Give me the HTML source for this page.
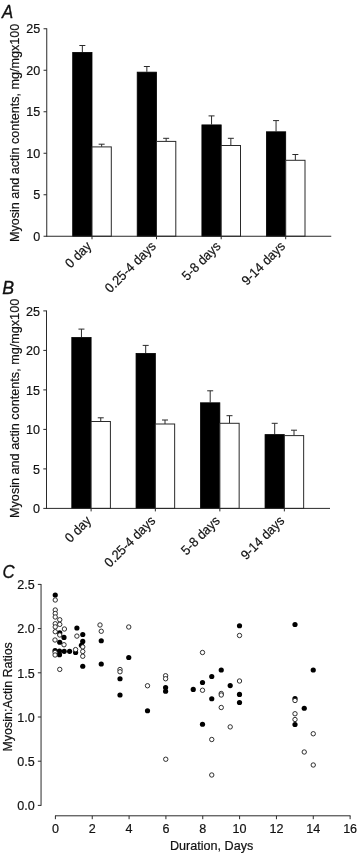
<!DOCTYPE html>
<html><head><meta charset="utf-8"><title>Figure</title>
<style>html,body{margin:0;padding:0;background:#fff}svg{display:block}text{font-family:"Liberation Sans",sans-serif;fill:#111;stroke:#111;stroke-width:0.2px}</style></head><body>
<svg width="360" height="853" viewBox="0 0 360 853">
<rect width="360" height="853" fill="#fff"/>
<text transform="translate(2,18.4) scale(0.93,1)" font-size="18" font-style="italic" style="stroke-width:0.35px">A</text>
<text transform="translate(18.7,242) rotate(-90)" font-size="13" textLength="218.2" lengthAdjust="spacingAndGlyphs">Myosin and actin contents, mg/mgx100</text>
<line x1="43.55" y1="236.25" x2="46.75" y2="236.25" stroke="#2a2a2a" stroke-width="1"/>
<text transform="translate(40.25,240.95) scale(0.938,1)" font-size="13.4" text-anchor="end">0</text>
<line x1="43.55" y1="194.75" x2="46.75" y2="194.75" stroke="#2a2a2a" stroke-width="1"/>
<text transform="translate(40.25,199.45) scale(0.938,1)" font-size="13.4" text-anchor="end">5</text>
<line x1="43.55" y1="153.25" x2="46.75" y2="153.25" stroke="#2a2a2a" stroke-width="1"/>
<text transform="translate(40.25,157.95) scale(0.938,1)" font-size="13.4" text-anchor="end">10</text>
<line x1="43.55" y1="111.75" x2="46.75" y2="111.75" stroke="#2a2a2a" stroke-width="1"/>
<text transform="translate(40.25,116.45) scale(0.938,1)" font-size="13.4" text-anchor="end">15</text>
<line x1="43.55" y1="70.25" x2="46.75" y2="70.25" stroke="#2a2a2a" stroke-width="1"/>
<text transform="translate(40.25,74.95) scale(0.938,1)" font-size="13.4" text-anchor="end">20</text>
<line x1="43.55" y1="28.75" x2="46.75" y2="28.75" stroke="#2a2a2a" stroke-width="1"/>
<text transform="translate(40.25,33.45) scale(0.938,1)" font-size="13.4" text-anchor="end">25</text>
<line x1="46.75" y1="28.35" x2="46.75" y2="236.65" stroke="#2a2a2a" stroke-width="1"/>
<line x1="82.35" y1="45.50" x2="82.35" y2="52.00" stroke="#2a2a2a" stroke-width="1"/>
<line x1="79.35" y1="45.50" x2="85.35" y2="45.50" stroke="#2a2a2a" stroke-width="1"/>
<rect x="72.70" y="52.40" width="19.30" height="183.85" fill="#000" stroke="#000" stroke-width="0.8"/>
<line x1="101.65" y1="144.20" x2="101.65" y2="146.90" stroke="#2a2a2a" stroke-width="1"/>
<line x1="98.65" y1="144.20" x2="104.65" y2="144.20" stroke="#2a2a2a" stroke-width="1"/>
<rect x="92.00" y="146.90" width="19.30" height="89.35" fill="#fff" stroke="#2a2a2a" stroke-width="1"/>
<line x1="92.00" y1="236.25" x2="92.00" y2="239.25" stroke="#2a2a2a" stroke-width="1"/>
<text transform="translate(92.20,247.05) rotate(-45) scale(0.938,1)" font-size="13.4" text-anchor="end">0 day</text>
<line x1="146.85" y1="66.50" x2="146.85" y2="71.75" stroke="#2a2a2a" stroke-width="1"/>
<line x1="143.85" y1="66.50" x2="149.85" y2="66.50" stroke="#2a2a2a" stroke-width="1"/>
<rect x="137.20" y="72.15" width="19.30" height="164.10" fill="#000" stroke="#000" stroke-width="0.8"/>
<line x1="166.15" y1="138.30" x2="166.15" y2="141.40" stroke="#2a2a2a" stroke-width="1"/>
<line x1="163.15" y1="138.30" x2="169.15" y2="138.30" stroke="#2a2a2a" stroke-width="1"/>
<rect x="156.50" y="141.40" width="19.30" height="94.85" fill="#fff" stroke="#2a2a2a" stroke-width="1"/>
<line x1="156.50" y1="236.25" x2="156.50" y2="239.25" stroke="#2a2a2a" stroke-width="1"/>
<text transform="translate(156.70,247.05) rotate(-45) scale(0.938,1)" font-size="13.4" text-anchor="end">0.25-4 days</text>
<line x1="211.55" y1="115.90" x2="211.55" y2="124.50" stroke="#2a2a2a" stroke-width="1"/>
<line x1="208.55" y1="115.90" x2="214.55" y2="115.90" stroke="#2a2a2a" stroke-width="1"/>
<rect x="201.90" y="124.90" width="19.30" height="111.35" fill="#000" stroke="#000" stroke-width="0.8"/>
<line x1="230.85" y1="138.30" x2="230.85" y2="145.50" stroke="#2a2a2a" stroke-width="1"/>
<line x1="227.85" y1="138.30" x2="233.85" y2="138.30" stroke="#2a2a2a" stroke-width="1"/>
<rect x="221.20" y="145.50" width="19.30" height="90.75" fill="#fff" stroke="#2a2a2a" stroke-width="1"/>
<line x1="221.20" y1="236.25" x2="221.20" y2="239.25" stroke="#2a2a2a" stroke-width="1"/>
<text transform="translate(221.40,247.05) rotate(-45) scale(0.938,1)" font-size="13.4" text-anchor="end">5-8 days</text>
<line x1="276.05" y1="120.60" x2="276.05" y2="131.40" stroke="#2a2a2a" stroke-width="1"/>
<line x1="273.05" y1="120.60" x2="279.05" y2="120.60" stroke="#2a2a2a" stroke-width="1"/>
<rect x="266.40" y="131.80" width="19.30" height="104.45" fill="#000" stroke="#000" stroke-width="0.8"/>
<line x1="295.35" y1="154.50" x2="295.35" y2="160.30" stroke="#2a2a2a" stroke-width="1"/>
<line x1="292.35" y1="154.50" x2="298.35" y2="154.50" stroke="#2a2a2a" stroke-width="1"/>
<rect x="285.70" y="160.30" width="19.30" height="75.95" fill="#fff" stroke="#2a2a2a" stroke-width="1"/>
<line x1="285.70" y1="236.25" x2="285.70" y2="239.25" stroke="#2a2a2a" stroke-width="1"/>
<text transform="translate(285.90,247.05) rotate(-45) scale(0.938,1)" font-size="13.4" text-anchor="end">9-14 days</text>
<line x1="46.35" y1="236.25" x2="331.25" y2="236.25" stroke="#2a2a2a" stroke-width="1"/>
<text transform="translate(2.2,294.1) scale(0.96,1)" font-size="18.5" font-style="italic" style="stroke-width:0.35px">B</text>
<text transform="translate(18.6,518) rotate(-90)" font-size="13" textLength="219.2" lengthAdjust="spacingAndGlyphs">Myosin and actin contents, mg/mgx100</text>
<line x1="43.3" y1="508.40" x2="46.5" y2="508.40" stroke="#2a2a2a" stroke-width="1"/>
<text transform="translate(40.0,513.10) scale(0.938,1)" font-size="13.4" text-anchor="end">0</text>
<line x1="43.3" y1="468.90" x2="46.5" y2="468.90" stroke="#2a2a2a" stroke-width="1"/>
<text transform="translate(40.0,473.60) scale(0.938,1)" font-size="13.4" text-anchor="end">5</text>
<line x1="43.3" y1="429.40" x2="46.5" y2="429.40" stroke="#2a2a2a" stroke-width="1"/>
<text transform="translate(40.0,434.10) scale(0.938,1)" font-size="13.4" text-anchor="end">10</text>
<line x1="43.3" y1="389.90" x2="46.5" y2="389.90" stroke="#2a2a2a" stroke-width="1"/>
<text transform="translate(40.0,394.60) scale(0.938,1)" font-size="13.4" text-anchor="end">15</text>
<line x1="43.3" y1="350.40" x2="46.5" y2="350.40" stroke="#2a2a2a" stroke-width="1"/>
<text transform="translate(40.0,355.10) scale(0.938,1)" font-size="13.4" text-anchor="end">20</text>
<line x1="43.3" y1="310.90" x2="46.5" y2="310.90" stroke="#2a2a2a" stroke-width="1"/>
<text transform="translate(40.0,315.60) scale(0.938,1)" font-size="13.4" text-anchor="end">25</text>
<line x1="46.5" y1="310.50" x2="46.5" y2="508.80" stroke="#2a2a2a" stroke-width="1"/>
<line x1="81.45" y1="329.10" x2="81.45" y2="337.10" stroke="#2a2a2a" stroke-width="1"/>
<line x1="78.45" y1="329.10" x2="84.45" y2="329.10" stroke="#2a2a2a" stroke-width="1"/>
<rect x="71.80" y="337.50" width="19.30" height="170.90" fill="#000" stroke="#000" stroke-width="0.8"/>
<line x1="100.75" y1="417.80" x2="100.75" y2="421.50" stroke="#2a2a2a" stroke-width="1"/>
<line x1="97.75" y1="417.80" x2="103.75" y2="417.80" stroke="#2a2a2a" stroke-width="1"/>
<rect x="91.10" y="421.50" width="19.30" height="86.90" fill="#fff" stroke="#2a2a2a" stroke-width="1"/>
<line x1="91.10" y1="508.40" x2="91.10" y2="511.40" stroke="#2a2a2a" stroke-width="1"/>
<text transform="translate(91.95,521.60) rotate(-45) scale(0.938,1)" font-size="13.4" text-anchor="end">0 day</text>
<line x1="145.70" y1="345.40" x2="145.70" y2="353.00" stroke="#2a2a2a" stroke-width="1"/>
<line x1="142.70" y1="345.40" x2="148.70" y2="345.40" stroke="#2a2a2a" stroke-width="1"/>
<rect x="136.05" y="353.40" width="19.30" height="155.00" fill="#000" stroke="#000" stroke-width="0.8"/>
<line x1="165.00" y1="420.00" x2="165.00" y2="424.00" stroke="#2a2a2a" stroke-width="1"/>
<line x1="162.00" y1="420.00" x2="168.00" y2="420.00" stroke="#2a2a2a" stroke-width="1"/>
<rect x="155.35" y="424.00" width="19.30" height="84.40" fill="#fff" stroke="#2a2a2a" stroke-width="1"/>
<line x1="155.35" y1="508.40" x2="155.35" y2="511.40" stroke="#2a2a2a" stroke-width="1"/>
<text transform="translate(156.20,521.60) rotate(-45) scale(0.938,1)" font-size="13.4" text-anchor="end">0.25-4 days</text>
<line x1="210.20" y1="390.80" x2="210.20" y2="402.40" stroke="#2a2a2a" stroke-width="1"/>
<line x1="207.20" y1="390.80" x2="213.20" y2="390.80" stroke="#2a2a2a" stroke-width="1"/>
<rect x="200.55" y="402.80" width="19.30" height="105.60" fill="#000" stroke="#000" stroke-width="0.8"/>
<line x1="229.50" y1="415.70" x2="229.50" y2="423.30" stroke="#2a2a2a" stroke-width="1"/>
<line x1="226.50" y1="415.70" x2="232.50" y2="415.70" stroke="#2a2a2a" stroke-width="1"/>
<rect x="219.85" y="423.30" width="19.30" height="85.10" fill="#fff" stroke="#2a2a2a" stroke-width="1"/>
<line x1="219.85" y1="508.40" x2="219.85" y2="511.40" stroke="#2a2a2a" stroke-width="1"/>
<text transform="translate(220.70,521.60) rotate(-45) scale(0.938,1)" font-size="13.4" text-anchor="end">5-8 days</text>
<line x1="274.70" y1="423.30" x2="274.70" y2="434.20" stroke="#2a2a2a" stroke-width="1"/>
<line x1="271.70" y1="423.30" x2="277.70" y2="423.30" stroke="#2a2a2a" stroke-width="1"/>
<rect x="265.05" y="434.60" width="19.30" height="73.80" fill="#000" stroke="#000" stroke-width="0.8"/>
<line x1="294.00" y1="430.20" x2="294.00" y2="435.60" stroke="#2a2a2a" stroke-width="1"/>
<line x1="291.00" y1="430.20" x2="297.00" y2="430.20" stroke="#2a2a2a" stroke-width="1"/>
<rect x="284.35" y="435.60" width="19.30" height="72.80" fill="#fff" stroke="#2a2a2a" stroke-width="1"/>
<line x1="284.35" y1="508.40" x2="284.35" y2="511.40" stroke="#2a2a2a" stroke-width="1"/>
<text transform="translate(285.20,521.60) rotate(-45) scale(0.938,1)" font-size="13.4" text-anchor="end">9-14 days</text>
<line x1="46.1" y1="508.40" x2="330" y2="508.40" stroke="#2a2a2a" stroke-width="1"/>
<text transform="translate(2.4,577.5) scale(0.89,1)" font-size="18.8" font-style="italic" style="stroke-width:0.35px">C</text>
<text transform="translate(11.7,751.5) rotate(-90)" font-size="13" textLength="109.3" lengthAdjust="spacingAndGlyphs">Myosin:Actin Ratios</text>
<line x1="37.849999999999994" y1="805.40" x2="41.05" y2="805.40" stroke="#2a2a2a" stroke-width="1"/>
<text transform="translate(34.75,810.10) scale(0.938,1)" font-size="13.4" text-anchor="end">0.0</text>
<line x1="37.849999999999994" y1="761.20" x2="41.05" y2="761.20" stroke="#2a2a2a" stroke-width="1"/>
<text transform="translate(34.75,765.90) scale(0.938,1)" font-size="13.4" text-anchor="end">0.5</text>
<line x1="37.849999999999994" y1="717.00" x2="41.05" y2="717.00" stroke="#2a2a2a" stroke-width="1"/>
<text transform="translate(34.75,721.70) scale(0.938,1)" font-size="13.4" text-anchor="end">1.0</text>
<line x1="37.849999999999994" y1="672.80" x2="41.05" y2="672.80" stroke="#2a2a2a" stroke-width="1"/>
<text transform="translate(34.75,677.50) scale(0.938,1)" font-size="13.4" text-anchor="end">1.5</text>
<line x1="37.849999999999994" y1="628.60" x2="41.05" y2="628.60" stroke="#2a2a2a" stroke-width="1"/>
<text transform="translate(34.75,633.30) scale(0.938,1)" font-size="13.4" text-anchor="end">2.0</text>
<line x1="37.849999999999994" y1="584.40" x2="41.05" y2="584.40" stroke="#2a2a2a" stroke-width="1"/>
<text transform="translate(34.75,589.10) scale(0.938,1)" font-size="13.4" text-anchor="end">2.5</text>
<line x1="41.05" y1="584.00" x2="41.05" y2="805.8" stroke="#2a2a2a" stroke-width="1"/>
<line x1="55.40" y1="815.8" x2="55.40" y2="819.1999999999999" stroke="#2a2a2a" stroke-width="1"/>
<text transform="translate(55.40,833.3) scale(0.938,1)" font-size="13.4" text-anchor="middle">0</text>
<line x1="92.24" y1="815.8" x2="92.24" y2="819.1999999999999" stroke="#2a2a2a" stroke-width="1"/>
<text transform="translate(92.24,833.3) scale(0.938,1)" font-size="13.4" text-anchor="middle">2</text>
<line x1="129.08" y1="815.8" x2="129.08" y2="819.1999999999999" stroke="#2a2a2a" stroke-width="1"/>
<text transform="translate(129.08,833.3) scale(0.938,1)" font-size="13.4" text-anchor="middle">4</text>
<line x1="165.92" y1="815.8" x2="165.92" y2="819.1999999999999" stroke="#2a2a2a" stroke-width="1"/>
<text transform="translate(165.92,833.3) scale(0.938,1)" font-size="13.4" text-anchor="middle">6</text>
<line x1="202.76" y1="815.8" x2="202.76" y2="819.1999999999999" stroke="#2a2a2a" stroke-width="1"/>
<text transform="translate(202.76,833.3) scale(0.938,1)" font-size="13.4" text-anchor="middle">8</text>
<line x1="239.60" y1="815.8" x2="239.60" y2="819.1999999999999" stroke="#2a2a2a" stroke-width="1"/>
<text transform="translate(239.60,833.3) scale(0.938,1)" font-size="13.4" text-anchor="middle">10</text>
<line x1="276.44" y1="815.8" x2="276.44" y2="819.1999999999999" stroke="#2a2a2a" stroke-width="1"/>
<text transform="translate(276.44,833.3) scale(0.938,1)" font-size="13.4" text-anchor="middle">12</text>
<line x1="313.28" y1="815.8" x2="313.28" y2="819.1999999999999" stroke="#2a2a2a" stroke-width="1"/>
<text transform="translate(313.28,833.3) scale(0.938,1)" font-size="13.4" text-anchor="middle">14</text>
<line x1="350.12" y1="815.8" x2="350.12" y2="819.1999999999999" stroke="#2a2a2a" stroke-width="1"/>
<text transform="translate(350.12,833.3) scale(0.938,1)" font-size="13.4" text-anchor="middle">16</text>
<line x1="55.0" y1="815.8" x2="350.52" y2="815.8" stroke="#2a2a2a" stroke-width="1"/>
<text x="170" y="850.4" font-size="13" textLength="83.3" lengthAdjust="spacingAndGlyphs">Duration, Days</text>
<circle cx="59.75" cy="632.75" r="2.6" fill="#000"/>
<circle cx="75.6" cy="652.5" r="2.6" fill="#000"/>
<circle cx="295" cy="698.5" r="2.6" fill="#000"/>
<circle cx="295" cy="724.5" r="2.6" fill="#000"/>
<circle cx="55.25" cy="595" r="2.6" fill="#000"/>
<circle cx="55.25" cy="600" r="2.2" fill="#fff" stroke="#1a1a1a" stroke-width="0.9"/>
<circle cx="55.25" cy="610" r="2.2" fill="#fff" stroke="#1a1a1a" stroke-width="0.9"/>
<circle cx="55.25" cy="613.5" r="2.2" fill="#fff" stroke="#1a1a1a" stroke-width="0.9"/>
<circle cx="55.25" cy="617" r="2.2" fill="#fff" stroke="#1a1a1a" stroke-width="0.9"/>
<circle cx="59.75" cy="619.75" r="2.2" fill="#fff" stroke="#1a1a1a" stroke-width="0.9"/>
<circle cx="55.25" cy="623.75" r="2.2" fill="#fff" stroke="#1a1a1a" stroke-width="0.9"/>
<circle cx="59.75" cy="624.4" r="2.2" fill="#fff" stroke="#1a1a1a" stroke-width="0.9"/>
<circle cx="55.25" cy="626.9" r="2.2" fill="#fff" stroke="#1a1a1a" stroke-width="0.9"/>
<circle cx="64.4" cy="629" r="2.2" fill="#fff" stroke="#1a1a1a" stroke-width="0.9"/>
<circle cx="55.25" cy="631.7" r="2.2" fill="#fff" stroke="#1a1a1a" stroke-width="0.9"/>
<circle cx="59.75" cy="635" r="2.2" fill="#fff" stroke="#1a1a1a" stroke-width="0.9"/>
<circle cx="64" cy="637.4" r="2.6" fill="#000"/>
<circle cx="55" cy="640" r="2.2" fill="#fff" stroke="#1a1a1a" stroke-width="0.9"/>
<circle cx="59.75" cy="642.25" r="2.6" fill="#000"/>
<circle cx="64" cy="644.75" r="2.2" fill="#fff" stroke="#1a1a1a" stroke-width="0.9"/>
<circle cx="55.1" cy="650.6" r="2.6" fill="#000"/>
<circle cx="59.5" cy="651" r="2.6" fill="#000"/>
<circle cx="64.2" cy="651.3" r="2.6" fill="#000"/>
<circle cx="69.6" cy="651.3" r="2.6" fill="#000"/>
<circle cx="59.5" cy="654.7" r="2.6" fill="#000"/>
<circle cx="55.1" cy="652.4" r="2.2" fill="#fff" stroke="#1a1a1a" stroke-width="0.9"/>
<circle cx="55.1" cy="655" r="2.2" fill="#fff" stroke="#1a1a1a" stroke-width="0.9"/>
<circle cx="59.75" cy="669.4" r="2.2" fill="#fff" stroke="#1a1a1a" stroke-width="0.9"/>
<circle cx="76.9" cy="628" r="2.6" fill="#000"/>
<circle cx="76.9" cy="636.1" r="2.2" fill="#fff" stroke="#1a1a1a" stroke-width="0.9"/>
<circle cx="75.6" cy="649.6" r="2.2" fill="#fff" stroke="#1a1a1a" stroke-width="0.9"/>
<circle cx="82.75" cy="634.5" r="2.6" fill="#000"/>
<circle cx="82.75" cy="641.4" r="2.6" fill="#000"/>
<circle cx="81.4" cy="645.3" r="2.6" fill="#000"/>
<circle cx="82.75" cy="646.9" r="2.2" fill="#fff" stroke="#1a1a1a" stroke-width="0.9"/>
<circle cx="82.75" cy="651.5" r="2.2" fill="#fff" stroke="#1a1a1a" stroke-width="0.9"/>
<circle cx="82.75" cy="656.25" r="2.2" fill="#fff" stroke="#1a1a1a" stroke-width="0.9"/>
<circle cx="82.75" cy="666.25" r="2.6" fill="#000"/>
<circle cx="100" cy="625" r="2.2" fill="#fff" stroke="#1a1a1a" stroke-width="0.9"/>
<circle cx="101.25" cy="631.25" r="2.2" fill="#fff" stroke="#1a1a1a" stroke-width="0.9"/>
<circle cx="101.25" cy="640.75" r="2.6" fill="#000"/>
<circle cx="101.25" cy="664" r="2.6" fill="#000"/>
<circle cx="128.75" cy="627" r="2.2" fill="#fff" stroke="#1a1a1a" stroke-width="0.9"/>
<circle cx="128.75" cy="657.5" r="2.6" fill="#000"/>
<circle cx="120" cy="669.5" r="2.2" fill="#fff" stroke="#1a1a1a" stroke-width="0.9"/>
<circle cx="120" cy="671.75" r="2.2" fill="#fff" stroke="#1a1a1a" stroke-width="0.9"/>
<circle cx="120" cy="678.75" r="2.6" fill="#000"/>
<circle cx="120" cy="695" r="2.6" fill="#000"/>
<circle cx="147.5" cy="685.75" r="2.2" fill="#fff" stroke="#1a1a1a" stroke-width="0.9"/>
<circle cx="147.5" cy="710.75" r="2.6" fill="#000"/>
<circle cx="165.6" cy="675.75" r="2.2" fill="#fff" stroke="#1a1a1a" stroke-width="0.9"/>
<circle cx="165.6" cy="678.75" r="2.2" fill="#fff" stroke="#1a1a1a" stroke-width="0.9"/>
<circle cx="165.6" cy="687.5" r="2.6" fill="#000"/>
<circle cx="165.6" cy="691.25" r="2.6" fill="#000"/>
<circle cx="165.75" cy="759.25" r="2.2" fill="#fff" stroke="#1a1a1a" stroke-width="0.9"/>
<circle cx="193.25" cy="689.4" r="2.6" fill="#000"/>
<circle cx="202.5" cy="682.5" r="2.6" fill="#000"/>
<circle cx="202.5" cy="690.25" r="2.2" fill="#fff" stroke="#1a1a1a" stroke-width="0.9"/>
<circle cx="202.5" cy="724.25" r="2.6" fill="#000"/>
<circle cx="202.5" cy="652.5" r="2.2" fill="#fff" stroke="#1a1a1a" stroke-width="0.9"/>
<circle cx="211.75" cy="676.5" r="2.6" fill="#000"/>
<circle cx="211.75" cy="698.75" r="2.6" fill="#000"/>
<circle cx="211.75" cy="739.5" r="2.2" fill="#fff" stroke="#1a1a1a" stroke-width="0.9"/>
<circle cx="211.75" cy="775" r="2.2" fill="#fff" stroke="#1a1a1a" stroke-width="0.9"/>
<circle cx="221.25" cy="670" r="2.6" fill="#000"/>
<circle cx="221.25" cy="693.5" r="2.2" fill="#fff" stroke="#1a1a1a" stroke-width="0.9"/>
<circle cx="221.25" cy="695" r="2.2" fill="#fff" stroke="#1a1a1a" stroke-width="0.9"/>
<circle cx="221.25" cy="707.5" r="2.2" fill="#fff" stroke="#1a1a1a" stroke-width="0.9"/>
<circle cx="230.2" cy="685.6" r="2.6" fill="#000"/>
<circle cx="230.2" cy="726.9" r="2.2" fill="#fff" stroke="#1a1a1a" stroke-width="0.9"/>
<circle cx="239.5" cy="625.75" r="2.6" fill="#000"/>
<circle cx="239.5" cy="635.5" r="2.2" fill="#fff" stroke="#1a1a1a" stroke-width="0.9"/>
<circle cx="239.5" cy="681" r="2.2" fill="#fff" stroke="#1a1a1a" stroke-width="0.9"/>
<circle cx="239.5" cy="694.4" r="2.6" fill="#000"/>
<circle cx="239.5" cy="702.5" r="2.6" fill="#000"/>
<circle cx="295" cy="624.5" r="2.6" fill="#000"/>
<circle cx="295" cy="700.5" r="2.2" fill="#fff" stroke="#1a1a1a" stroke-width="0.9"/>
<circle cx="295" cy="713.75" r="2.2" fill="#fff" stroke="#1a1a1a" stroke-width="0.9"/>
<circle cx="295" cy="719.5" r="2.2" fill="#fff" stroke="#1a1a1a" stroke-width="0.9"/>
<circle cx="304.25" cy="708.25" r="2.6" fill="#000"/>
<circle cx="304.25" cy="752" r="2.2" fill="#fff" stroke="#1a1a1a" stroke-width="0.9"/>
<circle cx="313.25" cy="670" r="2.6" fill="#000"/>
<circle cx="313.25" cy="733.75" r="2.2" fill="#fff" stroke="#1a1a1a" stroke-width="0.9"/>
<circle cx="313.25" cy="765" r="2.2" fill="#fff" stroke="#1a1a1a" stroke-width="0.9"/>
</svg></body></html>
